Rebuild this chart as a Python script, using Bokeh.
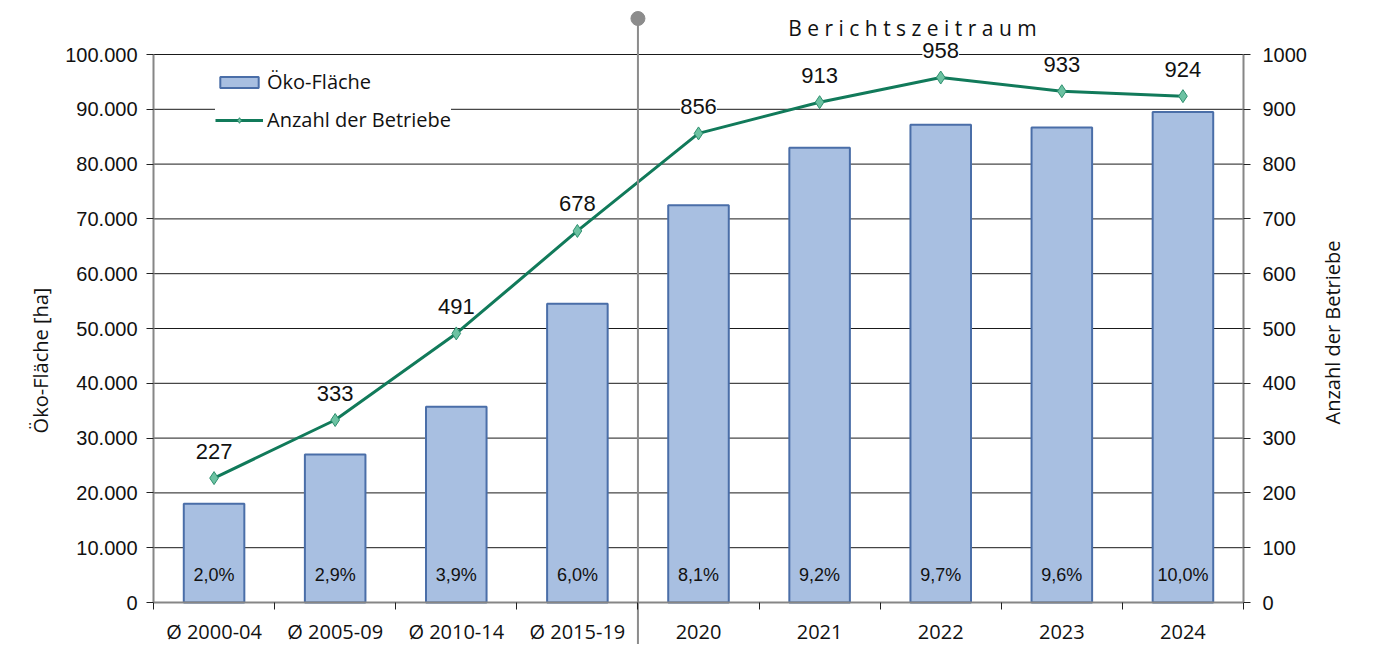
import numpy as np
from bokeh.plotting import figure
from bokeh.models import (Range1d, LinearAxis, FixedTicker, ColumnDataSource, LabelSet,
                          Label, Legend, LegendItem)
from bokeh.core.properties import value
from bokeh.embed import file_html
from bokeh.resources import INLINE

categories = ["Ø 2000-04", "Ø 2005-09", "Ø 2010-14", "Ø 2015-19",
              "2020", "2021", "2022", "2023", "2024"]
flaeche = [18000, 27000, 35700, 54500, 72500, 83000, 87200, 86700, 89500]
betriebe = [227, 333, 491, 678, 856, 913, 958, 933, 924]
anteil = ["2,0%", "2,9%", "3,9%", "6,0%", "8,1%", "9,2%", "9,7%", "9,6%", "10,0%"]
left_ticks = list(range(0, 100001, 10000))
right_ticks = list(range(0, 1001, 100))
left_max, right_max = left_ticks[-1], right_ticks[-1]

# ---- layout (pixels) ----
W, H = 1357, 644
PL, PR, PT, PB = 153, 1243, 54, 602          # plot-area edges inside the canvas
n = len(categories)
ux = (PR - PL) / n
uy = (PB - PT) / left_max
x0, x1 = -PL / ux, n + (W - PR) / ux
y0, y1 = -(H - PB) / uy, left_max + PT / uy
k = right_max / left_max


def xd(px):
    return x0 + px / ux


def yd(py):
    return y1 - py / uy


TICK_FONT = "Liberation Sans"
TXT_FONT = "Open Sans"
AXIS_COL = "#868686"
TXT_COL = "#111111"

xc = np.arange(n) + 0.5
src = ColumnDataSource(dict(x=xc, f=flaeche, b=betriebe, a=anteil,
                            zero=[0] * n, bl=[str(v) for v in betriebe]))

p = figure(width=W, height=H, output_backend="svg", toolbar_location=None,
           x_range=Range1d(x0, x1), y_range=Range1d(y0, y1),
           min_border=0, outline_line_color=None,
           x_axis_location=None, y_axis_location=None)
p.extra_y_ranges = {"right": Range1d(y0 * k, y1 * k)}
p.xgrid.visible = False
p.ygrid.visible = False

# ---- axes ----
xaxis = LinearAxis(ticker=FixedTicker(ticks=list(xc), minor_ticks=list(range(n + 1))),
                   fixed_location=0, bounds=(0, n))
xaxis.major_label_overrides = {float(x): c for x, c in zip(xc, categories)}
xaxis.major_tick_line_color = None
xaxis.major_tick_out = 0
xaxis.minor_tick_out = 7
xaxis.minor_tick_in = 0
xaxis.minor_tick_line_color = "#222222"
xaxis.axis_line_color = AXIS_COL
xaxis.axis_line_width = 2
xaxis.major_label_standoff = 8
xaxis.major_label_text_font = TXT_FONT
xaxis.major_label_text_font_size = "20px"
xaxis.major_label_text_color = TXT_COL
p.add_layout(xaxis, "below")

laxis = LinearAxis(ticker=FixedTicker(ticks=left_ticks, minor_ticks=[]),
                   fixed_location=0, bounds=(0, left_max))
laxis.major_label_overrides = {t: f"{t:,}".replace(",", ".") for t in left_ticks}
raxis = LinearAxis(y_range_name="right", ticker=FixedTicker(ticks=right_ticks, minor_ticks=[]),
                   fixed_location=n, bounds=(0, right_max))
for ax, so in ((laxis, 9), (raxis, 12)):
    ax.major_tick_out = 7
    ax.major_tick_in = 0
    ax.major_tick_line_color = "#222222"
    ax.axis_line_color = AXIS_COL
    ax.axis_line_width = 2
    ax.major_label_standoff = so
    ax.major_label_text_font = TICK_FONT
    ax.major_label_text_font_size = "20px"
    ax.major_label_text_color = TXT_COL
p.add_layout(laxis, "left")
p.add_layout(raxis, "right")

# axis titles
p.add_layout(Label(x=xd(40), y=yd(360), text="Öko-Fläche [ha]", angle=np.pi / 2,
                   text_align="center", text_baseline="middle", text_font=TXT_FONT,
                   text_font_size="20px", text_color=TXT_COL))
p.add_layout(Label(x=xd(1332), y=yd(332), text="Anzahl der Betriebe", angle=np.pi / 2,
                   text_align="center", text_baseline="middle", text_font=TXT_FONT,
                   text_font_size="20px", text_color=TXT_COL))

# horizontal grid lines across the plot area only
gt = left_ticks[1:]
p.segment(x0=[0] * len(gt), x1=[n] * len(gt), y0=gt, y1=gt,
          line_color="#1a1a1a", line_width=1, level="underlay")

# ---- data ----
bars = p.vbar(x="x", top="f", width=0.5, source=src, fill_color="#a8bfe1",
              line_color="#4a6ea8", line_width=2)
ln = p.line(x="x", y="b", source=src, y_range_name="right", line_color="#117a5a",
            line_width=3)
mk = p.scatter(x="x", y="b", source=src, y_range_name="right", marker="diamond",
               size=13, fill_color="#6cc2a2", line_color="#2e8f6e", line_width=1)

p.add_layout(LabelSet(x="x", y="b", text="bl", source=src, y_range_name="right",
                      y_offset=27, text_align="center", text_baseline="middle",
                      text_font=value(TICK_FONT), text_font_size="22px", text_color=TXT_COL,
                      background_fill_color="white"))
p.add_layout(LabelSet(x="x", y="zero", text="a", source=src, y_offset=28,
                      text_align="center", text_baseline="middle",
                      text_font=value(TICK_FONT), text_font_size="18px", text_color=TXT_COL))

# ---- separator between averages and Berichtszeitraum ----
n_avg = sum(c.startswith("Ø") for c in categories)
p.segment(x0=[n_avg], x1=[n_avg], y0=[yd(18)], y1=[yd(H)], line_color="#8c8c8c",
          line_width=2)
p.scatter(x=[n_avg], y=[yd(18)], marker="circle", size=14, fill_color="#8c8c8c",
          line_color="#8c8c8c")
p.add_layout(Label(x=xd(912), y=yd(27), text="B e r i c h t s z e i t r a u m",
                   text_align="center", text_baseline="middle", text_font=TXT_FONT,
                   text_font_size="21px", text_color=TXT_COL))

legend = Legend(items=[LegendItem(label="Öko-Fläche", renderers=[bars]),
                       LegendItem(label="Anzahl der Betriebe", renderers=[ln, mk])],
                location=(215, 511), border_line_color=None, background_fill_color="white",
                background_fill_alpha=1.0, padding=10, spacing=11, margin=0,
                glyph_width=48, glyph_height=14, label_standoff=4, label_height=20,
                label_text_font=TXT_FONT, label_text_font_size="20px",
                label_text_color=TXT_COL)
p.add_layout(legend, "center")

open("out.html", "w").write(file_html(p, INLINE))
